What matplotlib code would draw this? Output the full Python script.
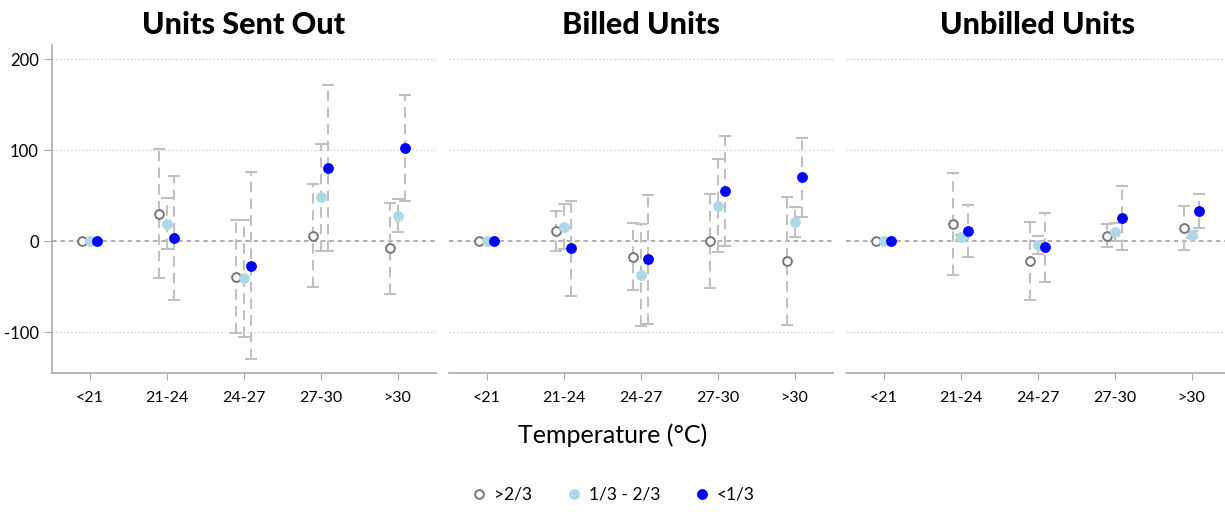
import matplotlib
matplotlib.use('Agg')
import matplotlib.pyplot as plt
import numpy as np

plt.rcParams['font.family'] = ['Lato', 'DejaVu Sans']
plt.rcParams['axes.unicode_minus'] = False

categories = ['<21', '21-24', '24-27', '27-30', '>30']
groups = ['>2/3', '1/3 - 2/3', '<1/3']
titles = ['Units Sent Out', 'Billed Units', 'Unbilled Units']

# Units sent out: estimates and half-widths of the intervals
sent_hi = [0, 30, -39, 6, -8]
sent_hi_err = [0, 71, 62, 57, 50]
sent_mid = [0, 19, -41, 48, 28]
sent_mid_err = [0, 28, 64, 59, 18]
sent_lo = [0, 3, -27, 80, 102]
sent_lo_err = [0, 68, 103, 91, 58]

# Billed units
billed_hi = [0, 11, -17, 0, -22]
billed_hi_err = [0, 22, 37, 52, 70]
billed_mid = [0, 16, -37, 39, 21]
billed_mid_err = [0, 25, 56, 51, 16]
billed_lo = [0, -8, -20, 55, 70]
billed_lo_err = [0, 52, 71, 60, 43]

# Unbilled units
unbilled_hi = [0, 19, -22, 6, 14]
unbilled_hi_err = [0, 56, 43, 13, 24]
unbilled_mid = [0, 4, -4, 10, 7]
unbilled_mid_err = [0, 3, 10, 10, 4]
unbilled_lo = [0, 11, -7, 25, 33]
unbilled_lo_err = [0, 29, 38, 35, 19]

panels = [
    [(sent_hi, sent_hi_err), (sent_mid, sent_mid_err), (sent_lo, sent_lo_err)],
    [(billed_hi, billed_hi_err), (billed_mid, billed_mid_err), (billed_lo, billed_lo_err)],
    [(unbilled_hi, unbilled_hi_err), (unbilled_mid, unbilled_mid_err), (unbilled_lo, unbilled_lo_err)],
]

offsets = [-0.1, 0.0, 0.1]
marker_styles = [
    dict(marker='o', markersize=6.3, markerfacecolor='white', markeredgecolor='#777777', markeredgewidth=1.4),
    dict(marker='o', markersize=7.8, markerfacecolor='#add8e6', markeredgecolor='#add8e6', markeredgewidth=0),
    dict(marker='o', markersize=7.8, markerfacecolor='#0000ff', markeredgecolor='#0000ff', markeredgewidth=0),
]

W, H = 1225, 512
fig = plt.figure(figsize=(W / 100, H / 100), dpi=100)
lefts = [52, 449, 846]
ax_w, ax_bottom, ax_top = 384, 373, 45
x = np.arange(len(categories))

axes = []
for i, left in enumerate(lefts):
    ax = fig.add_axes([left / W, 1 - ax_bottom / H, ax_w / W, (ax_bottom - ax_top) / H])
    axes.append(ax)
    ax.set_xlim(-0.49, 4.5)
    ax.set_ylim(-145, 215.5)

    for y in [-100, 100, 200]:
        ax.axhline(y, color='#cccccc', linewidth=0.9, linestyle=(0, (1, 2)), zorder=0)
    ax.axhline(0, color='#999999', linewidth=1.1, linestyle=(0, (3, 2.5)), zorder=1)

    handles = []
    for (vals, errs), off, ms in zip(panels[i], offsets, marker_styles):
        eb = ax.errorbar(x + off, vals, yerr=errs, fmt='none', ecolor='#c0c0c0',
                         elinewidth=1.5, capsize=4, capthick=1.5, zorder=2)
        eb[2][0].set_linestyle((0, (5, 3)))
        h, = ax.plot(x + off, vals, linestyle='none', zorder=3, **ms)
        handles.append(h)

    ax.set_title(titles[i], fontsize=22, fontweight='black', pad=8)
    ax.set_xticks(x)
    ax.set_xticklabels(categories, fontsize=11.5)
    ax.tick_params(axis='x', length=5, color='#aaaaaa', pad=8)
    for side in ['top', 'right']:
        ax.spines[side].set_visible(False)
    ax.spines['bottom'].set_color('#aaaaaa')
    ax.spines['bottom'].set_linewidth(1.2)
    if i == 0:
        ax.spines['left'].set_color('#aaaaaa')
        ax.spines['left'].set_linewidth(1.2)
        ax.set_yticks([-100, 0, 100, 200])
        ax.tick_params(axis='y', length=6, color='#aaaaaa', labelsize=12)
    else:
        ax.spines['left'].set_visible(False)
        ax.set_yticks([-100, 0, 100, 200])
        ax.tick_params(axis='y', length=0, labelleft=False)

fig.text(0.5, 1 - 435 / H, 'Temperature (°C)', ha='center', va='center', fontsize=18)
fig.legend(handles, groups, loc='center', bbox_to_anchor=(0.5, 1 - 495 / H), ncol=3,
           frameon=False, fontsize=12.5, handletextpad=0.35, columnspacing=1.9,
           handlelength=1.0)

fig.savefig('out.png', dpi=100)
